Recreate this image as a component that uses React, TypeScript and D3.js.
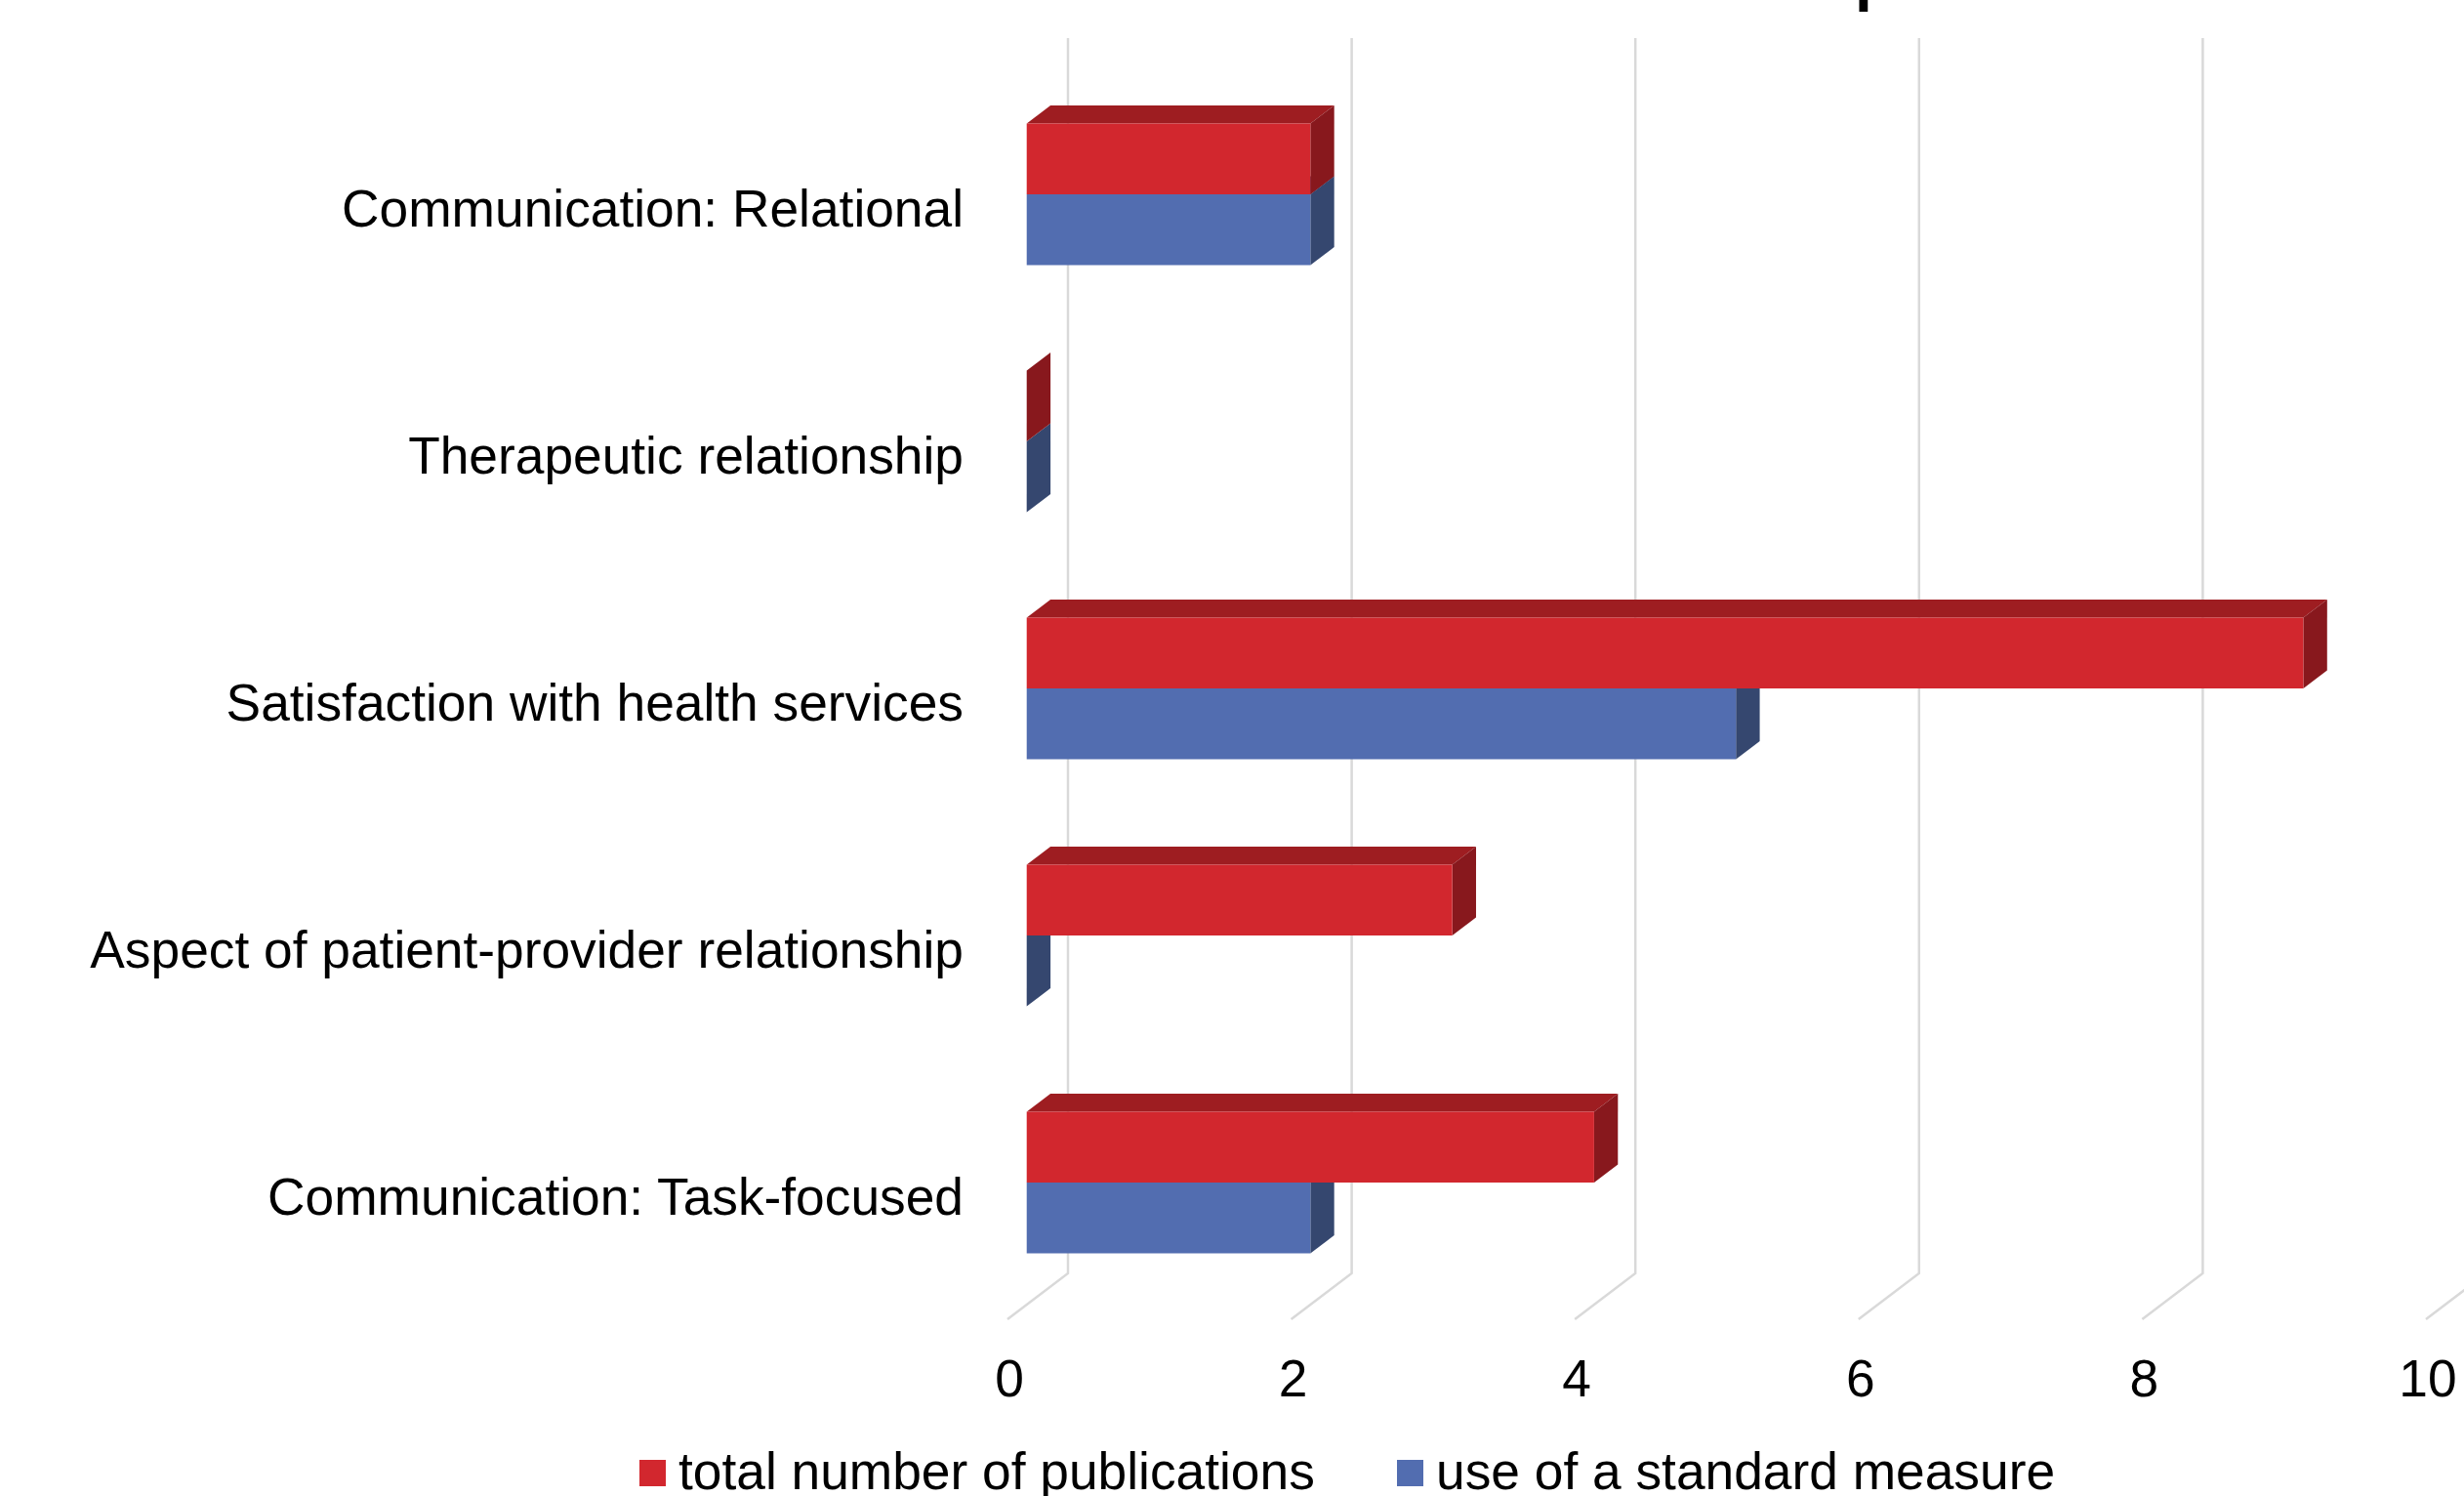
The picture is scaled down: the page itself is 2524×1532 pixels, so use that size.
import React from "react";
import * as d3 from "d3";

const categories = [
  "Communication: Relational",
  "Therapeutic relationship",
  "Satisfaction with health services",
  "Aspect of patient-provider relationship",
  "Communication: Task-focused",
];
const totalPublications = [2, 0, 9, 3, 4];
const standardMeasure = [2, 0, 5, 0, 2];
const seriesNames = ["total number of publications", "use of a standard measure"];
const xTicks = [0, 2, 4, 6, 8, 10];

const W = 2524;
const H = 1532;
const FONT = "'Liberation Sans', Arial, Helvetica, sans-serif";

// 3D projection parameters
const DX = 62;
const DY = 47;
const Z_FRONT = 0.318;
const Z_BACK = 0.711;

const x = d3.scaleLinear().domain([0, 10]).range([1032, 1032 + 1453]);
const yCat = d3.scaleBand<string>().domain(categories).range([86, 1351]).padding(0);
const ySeries = d3
  .scaleBand<string>()
  .domain(seriesNames)
  .range([0, 145])
  .padding(0);
const groupOffset = (yCat.bandwidth() - 145) / 2 + 1.5;

const P = (v: number, y: number, z: number): [number, number] => [x(v) + z * DX, y - z * DY];
const poly = (pts: [number, number][]) => pts.map((p) => p.join(",")).join(" ");

const colors = [
  { front: "#D2272E", top: "#9E1D21", side: "#88181D", legend: "#D2272E" },
  { front: "#526DB0", top: "#3E5284", side: "#35476F", legend: "#526DB0" },
];

function Bar({ v, y0, y1, c }: { v: number; y0: number; y1: number; c: typeof colors[0] }) {
  const front = poly([P(0, y0, Z_FRONT), P(v, y0, Z_FRONT), P(v, y1, Z_FRONT), P(0, y1, Z_FRONT)]);
  const top = poly([P(0, y0, Z_FRONT), P(v, y0, Z_FRONT), P(v, y0, Z_BACK), P(0, y0, Z_BACK)]);
  const side = poly([P(v, y0, Z_FRONT), P(v, y0, Z_BACK), P(v, y1, Z_BACK), P(v, y1, Z_FRONT)]);
  return (
    <g>
      <polygon points={top} fill={c.top} />
      <polygon points={side} fill={c.side} />
      <polygon points={front} fill={c.front} />
    </g>
  );
}

export default function App() {
  const yTop = yCat.range()[0];
  const yBottom = yCat.range()[1];
  const seriesValues = [totalPublications, standardMeasure];
  return (
    <div style={{ position: "absolute", left: 0, top: 0, width: W, height: H, overflow: "hidden" }}>
      <svg width={W} height={H} style={{ display: "block", background: "#fff" }}>
        <rect width={W} height={H} fill="#fff" />
        {/* cropped chart title (only a descender visible) */}
        <text x={1900} y={-1} fontFamily={FONT} fontWeight="bold" fontSize={64} fill="#000">
          p
        </text>
        {/* gridlines: back wall + floor */}
        {xTicks.map((t) => {
          const a = P(t, yTop, 1);
          const b = P(t, yBottom, 1);
          const c = P(t, yBottom, 0);
          return (
            <polyline
              key={t}
              points={poly([a, b, c])}
              fill="none"
              stroke="#D9D9D9"
              strokeWidth={2.5}
            />
          );
        })}
        {/* bars: lower series first, upper series on top */}
        {categories.map((cat, i) => {
          const base = (yCat(cat) as number) + groupOffset;
          return (
            <g key={cat}>
              {[1, 0].map((s) => {
                const y0 = base + (ySeries(seriesNames[s]) as number);
                const y1 = y0 + ySeries.bandwidth();
                return <Bar key={s} v={seriesValues[s][i]} y0={y0} y1={y1} c={colors[s]} />;
              })}
            </g>
          );
        })}
        {/* category labels */}
        {categories.map((cat) => (
          <text
            key={cat}
            x={987}
            y={(yCat(cat) as number) + yCat.bandwidth() / 2 + 19}
            textAnchor="end"
            fontFamily={FONT}
            fontSize={53.3}
            fill="#000"
          >
            {cat}
          </text>
        ))}
        {/* value axis tick labels */}
        {xTicks.map((t) => (
          <text
            key={t}
            x={x(t) + 2}
            y={1430}
            textAnchor="middle"
            fontFamily={FONT}
            fontSize={53.3}
            fill="#000"
          >
            {t}
          </text>
        ))}
        {/* legend */}
        {seriesNames.map((name, s) => {
          const lx = s === 0 ? 655 : 1431;
          return (
            <g key={name}>
              <rect x={lx} y={1495} width={27} height={27} fill={colors[s].legend} />
              <text x={lx + 40} y={1525} fontFamily={FONT} fontSize={53.3} fill="#000">
                {name}
              </text>
            </g>
          );
        })}
      </svg>
    </div>
  );
}
